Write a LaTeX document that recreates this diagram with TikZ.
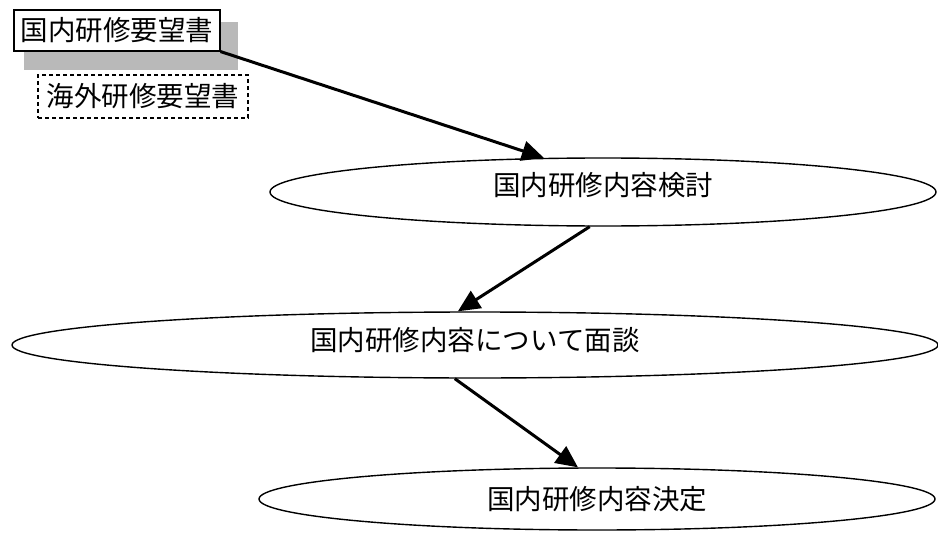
\documentclass[tikz,border=0pt]{standalone}
\usepackage{fontspec}
\setmainfont{Noto Sans CJK JP}
\usetikzlibrary{shapes.geometric,arrows.meta}
\begin{document}
\begin{tikzpicture}[x=1pt,y=-1pt,
  every node/.style={font=\fontsize{27.5}{30}\selectfont},
  oval/.style={draw=black,line width=1.4pt,ellipse,inner sep=0pt,fill=white},
  docbox/.style={draw=black,line width=1.1pt,rectangle,inner sep=0pt,fill=white},
  conn/.style={line width=3pt,-{Triangle[length=22pt,width=20pt]}}]
\useasboundingbox (0,0) rectangle (938,535);
% shadow / stacked sheet
\fill[gray!55] (24,22) rectangle (238,70);
\node[docbox,minimum width=206pt,minimum height=41pt] (req) at (117,30.5) {国内研修要望書};
\node[docbox,dash pattern=on 4pt off 3pt,line width=1.4pt,minimum width=210pt,minimum height=43pt] (abroad) at (143,96.5) {海外研修要望書};
\node[oval,minimum width=666pt,minimum height=68pt,text depth=16pt] (e1) at (603,192) {国内研修内容検討};
\node[oval,minimum width=926pt,minimum height=66pt,text depth=12pt] (e2) at (475,345) {国内研修内容について面談};
\node[oval,minimum width=676pt,minimum height=62pt] (e3) at (597,499) {国内研修内容決定};
\draw[conn] (req.south east) -- (e1.150);
\draw[conn] (e1.-111) -- (e2.117);
\draw[conn] (e2.-121) -- (e3.121);
\end{tikzpicture}
\end{document}
